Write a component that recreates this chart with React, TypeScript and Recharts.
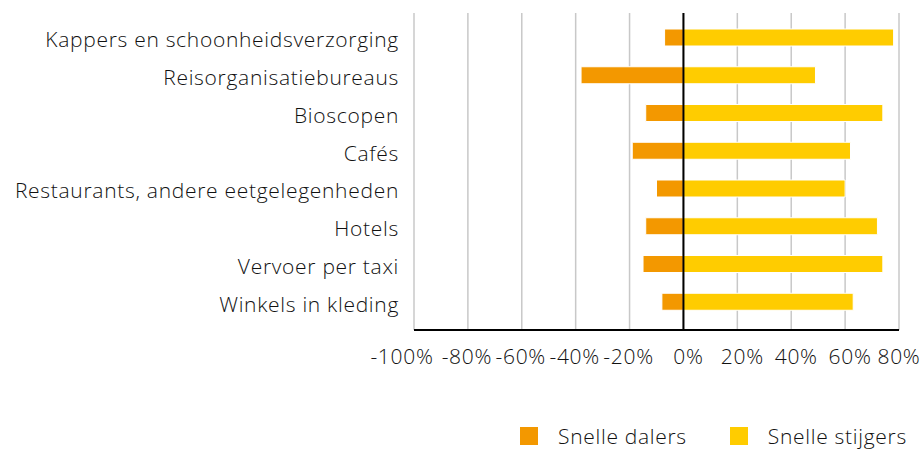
import React from "react";
import {
  BarChart,
  Bar,
  XAxis,
  YAxis,
  CartesianGrid,
  ReferenceLine,
  Legend,
} from "recharts";

const categories = [
  "Kappers en schoonheidsverzorging",
  "Reisorganisatiebureaus",
  "Bioscopen",
  "Cafés",
  "Restaurants, andere eetgelegenheden",
  "Hotels",
  "Vervoer per taxi",
  "Winkels in kleding",
];
const snelleDalers = [-7, -38, -14, -19, -10, -14, -15, -8];
const snelleStijgers = [78, 49, 74, 62, 60, 72, 74, 63];
const xTicks = [-100, -80, -60, -40, -20, 0, 20, 40, 60, 80];

const data = categories.map((name, i) => ({
  name,
  dalers: snelleDalers[i],
  stijgers: snelleStijgers[i],
}));

const FONT = "'Open Sans', sans-serif";
const WEIGHT = 300;
const SPACING = 0.7;
const SIZE = 21;
const TEXT = "#111";

const XTick = (props: any) => {
  const { x, y, payload } = props;
  const v = payload.value as number;
  const dx = v === -100 ? -12 : v === 80 ? 0 : v >= 0 ? 5 : -1;
  return (
    <text
      x={x + dx}
      y={y}
      dy="0.71em"
      textAnchor="middle"
      fill={TEXT}
      fontSize={SIZE}
      fontFamily={FONT}
      fontWeight={WEIGHT}
      letterSpacing={SPACING}
    >
      {`${v}%`}
    </text>
  );
};

const renderLegend = (props: any) => {
  const { payload } = props;
  return (
    <div style={{ display: "flex", alignItems: "center", fontFamily: FONT, fontWeight: WEIGHT }}>
      {payload.map((entry: any, i: number) => (
        <div
          key={i}
          style={{ display: "flex", alignItems: "center", marginRight: i === 0 ? 43 : 0 }}
        >
          <span
            style={{ width: 18, height: 18, background: entry.color, display: "inline-block", marginRight: 20 }}
          />
          <span style={{ fontSize: SIZE, color: TEXT, letterSpacing: SPACING }}>{entry.value}</span>
        </div>
      ))}
    </div>
  );
};

export default function App() {
  return (
    <div style={{ position: "absolute", left: 0, top: 0, width: 923, height: 450, background: "#fff" }}>
      <BarChart
        width={923}
        height={450}
        data={data}
        layout="vertical"
        stackOffset="sign"
        margin={{ top: 13, right: 24, left: 0, bottom: 44 }}
        barCategoryGap={0}
      >
        <CartesianGrid horizontal={false} stroke="#c8c8c8" strokeWidth={1.5} />
        <XAxis
          type="number"
          domain={[-100, 80]}
          ticks={xTicks}
          axisLine={{ stroke: "#000", strokeWidth: 2 }}
          tickLine={false}
          tickSize={0}
          tickMargin={19}
          height={50}
          tick={<XTick />}
          interval={0}
        />
        <YAxis
          type="category"
          dataKey="name"
          width={414}
          axisLine={false}
          tickLine={false}
          tickSize={0}
          tickMargin={15}
          padding={{ top: 6, bottom: 9 }}
          tick={{ fill: TEXT, fontSize: SIZE, fontFamily: FONT, fontWeight: WEIGHT, letterSpacing: SPACING, dy: 2 }}
          interval={0}
        />
        <Bar
          dataKey="dalers"
          name="Snelle dalers"
          stackId="a"
          fill="#F39800"
          stroke="#fff"
          strokeWidth={1}
          barSize={17}
          isAnimationActive={false}
        />
        <Bar
          dataKey="stijgers"
          name="Snelle stijgers"
          stackId="a"
          fill="#FFCC00"
          stroke="#fff"
          strokeWidth={1}
          barSize={17}
          isAnimationActive={false}
        />
        <ReferenceLine x={0} stroke="#000" strokeWidth={2} />
        <Legend
          verticalAlign="bottom"
          content={renderLegend}
          wrapperStyle={{ left: 520, bottom: 2, width: 400, height: 26 }}
        />
      </BarChart>
    </div>
  );
}
